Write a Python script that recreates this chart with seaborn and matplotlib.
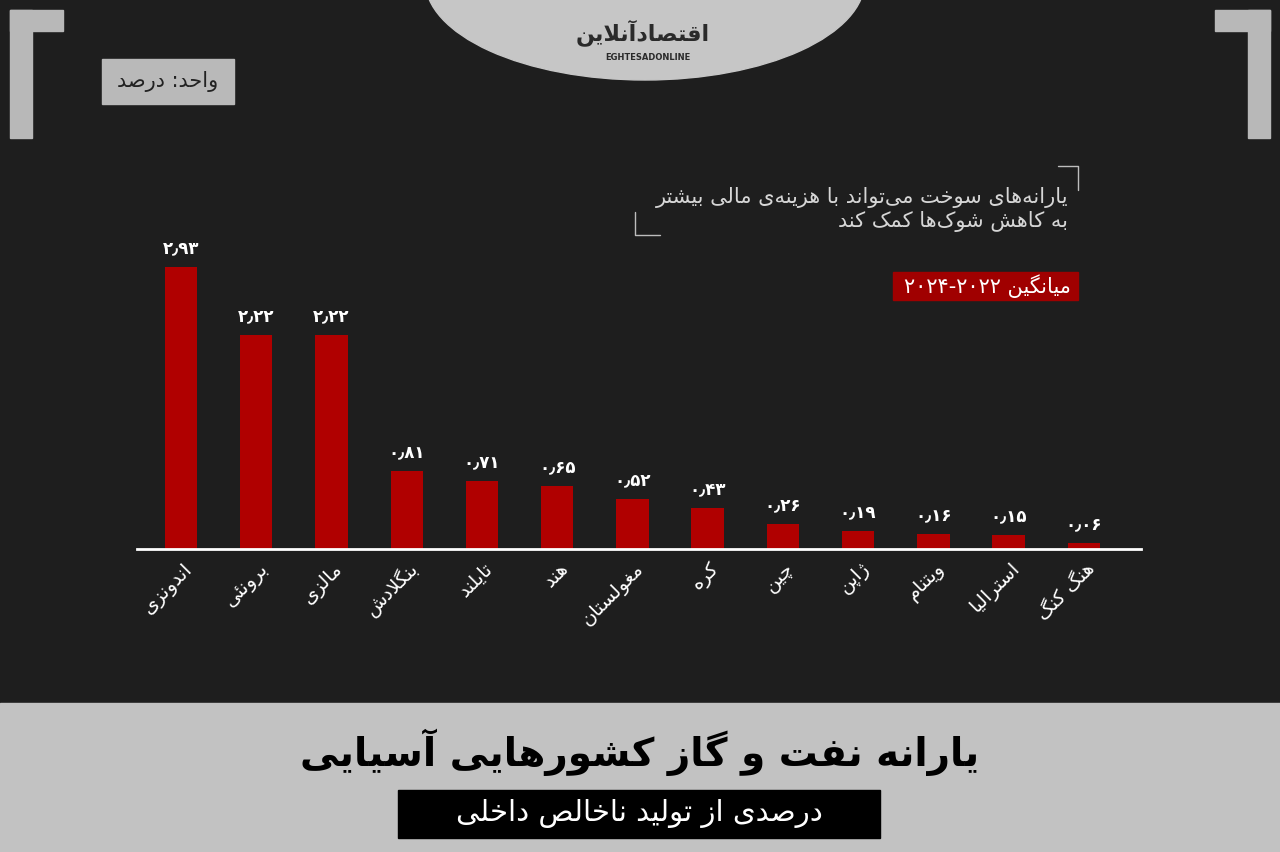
import re
import matplotlib
matplotlib.use("Agg")
import matplotlib.pyplot as plt
from matplotlib.patches import Rectangle, Ellipse
from matplotlib.transforms import ScaledTranslation
import seaborn as sns
import pandas as pd

# data
countries = ["اندونزی", "برونئی", "مالزی", "بنگلادش", "تایلند", "هند", "مغولستان",
             "کره", "چین", "ژاپن", "ویتنام", "استرالیا", "هنگ کنگ"]
values = [2.93, 2.22, 2.22, 0.81, 0.71, 0.65, 0.52, 0.43, 0.26, 0.19, 0.16, 0.15, 0.06]

title = "یارانه نفت و گاز کشورهایی آسیایی"
subtitle = "درصدی از تولید ناخالص داخلی"
unit = "واحد: درصد"
note1 = "یارانه‌های سوخت می‌تواند با هزینه‌ی مالی بیشتر"
note2 = "به کاهش شوک‌ها کمک کند"
period = "میانگین ۲۰۲۲-۲۰۲۴"
logo = "اقتصادآنلاین"

# --- tiny persian shaper (matplotlib has no text shaping) ---
FORMS = {
    'ا': (0xFE8D, 0xFE8E), 'آ': (0xFE81, 0xFE82), 'د': (0xFEA9, 0xFEAA),
    'ذ': (0xFEAB, 0xFEAC), 'ر': (0xFEAD, 0xFEAE), 'ز': (0xFEAF, 0xFEB0),
    'ژ': (0xFB8A, 0xFB8B), 'و': (0xFEED, 0xFEEE), 'ة': (0xFE93, 0xFE94),
    'ب': (0xFE8F, 0xFE90, 0xFE91, 0xFE92), 'پ': (0xFB56, 0xFB57, 0xFB58, 0xFB59),
    'ت': (0xFE95, 0xFE96, 0xFE97, 0xFE98), 'ث': (0xFE99, 0xFE9A, 0xFE9B, 0xFE9C),
    'ج': (0xFE9D, 0xFE9E, 0xFE9F, 0xFEA0), 'چ': (0xFB7A, 0xFB7B, 0xFB7C, 0xFB7D),
    'ح': (0xFEA1, 0xFEA2, 0xFEA3, 0xFEA4), 'خ': (0xFEA5, 0xFEA6, 0xFEA7, 0xFEA8),
    'س': (0xFEB1, 0xFEB2, 0xFEB3, 0xFEB4), 'ش': (0xFEB5, 0xFEB6, 0xFEB7, 0xFEB8),
    'ص': (0xFEB9, 0xFEBA, 0xFEBB, 0xFEBC), 'ض': (0xFEBD, 0xFEBE, 0xFEBF, 0xFEC0),
    'ط': (0xFEC1, 0xFEC2, 0xFEC3, 0xFEC4), 'ظ': (0xFEC5, 0xFEC6, 0xFEC7, 0xFEC8),
    'ع': (0xFEC9, 0xFECA, 0xFECB, 0xFECC), 'غ': (0xFECD, 0xFECE, 0xFECF, 0xFED0),
    'ف': (0xFED1, 0xFED2, 0xFED3, 0xFED4), 'ق': (0xFED5, 0xFED6, 0xFED7, 0xFED8),
    'ک': (0xFB8E, 0xFB8F, 0xFB90, 0xFB91), 'گ': (0xFB92, 0xFB93, 0xFB94, 0xFB95),
    'ل': (0xFEDD, 0xFEDE, 0xFEDF, 0xFEE0), 'م': (0xFEE1, 0xFEE2, 0xFEE3, 0xFEE4),
    'ن': (0xFEE5, 0xFEE6, 0xFEE7, 0xFEE8), 'ه': (0xFEE9, 0xFEEA, 0xFEEB, 0xFEEC),
    'ی': (0xFBFC, 0xFBFD, 0xFBFE, 0xFBFF), 'ئ': (0xFE89, 0xFE8A, 0xFE8B, 0xFE8C),
}
LAM_ALEF = {'ا': (0xFEFB, 0xFEFC), 'آ': (0xFEF5, 0xFEF6)}


def shape(s):
    out = []
    i = 0
    while i < len(s):
        c = s[i]
        if c not in FORMS:
            if c != '\u200c':
                out.append(c)
            i += 1
            continue
        prev = s[i - 1] if i > 0 else None
        cp = prev in FORMS and len(FORMS[prev]) == 4
        if c == 'ل' and i + 1 < len(s) and s[i + 1] in LAM_ALEF:
            iso, fin = LAM_ALEF[s[i + 1]]
            out.append(chr(fin if cp else iso))
            i += 2
            continue
        nxt = s[i + 1] if i + 1 < len(s) else None
        f = FORMS[c]
        cn = len(f) == 4 and nxt in FORMS
        if cp and cn:
            g = f[3]
        elif cp:
            g = f[1]
        elif cn:
            g = f[2]
        else:
            g = f[0]
        out.append(chr(g))
        i += 1
    return ''.join(out)


def fa(s):
    rev = shape(s)[::-1]
    return re.sub(r'[0-9۰-۹٫]+', lambda m: m.group(0)[::-1], rev)


def fa_num(v):
    digits = str.maketrans("0123456789.", "۰۱۲۳۴۵۶۷۸۹٫")
    return ("%.2f" % v).rstrip('0').translate(digits)


df = pd.DataFrame({"country": countries, "value": values})

sns.set_style("dark")
plt.rcParams['font.family'] = ['DejaVu Sans']

DARK = "#1e1e1e"
LIGHT = "#c2c2c2"
RED = "#b00000"

fig = plt.figure(figsize=(12.8, 8.52), dpi=100, facecolor=DARK)

# decorative background layer in pixel coords
bg = fig.add_axes([0, 0, 1, 1], zorder=0)
bg.set_xlim(0, 1280)
bg.set_ylim(852, 0)
bg.axis('off')
bg.add_patch(Rectangle((0, 0), 1280, 703, color=DARK))
bg.add_patch(Rectangle((0, 703), 1280, 149, color=LIGHT))
bg.add_patch(Ellipse((645, -20), 440, 200, color="#c6c6c6"))
bg.text(643, 33, fa(logo), ha='center', va='center', fontsize=16,
        fontweight='bold', color="#2a2a2a")
bg.text(648, 57, "EGHTESADONLINE", ha='center', va='center', fontsize=6,
        fontweight='bold', color="#2a2a2a")
# corner brackets
for r in [(10, 10, 22, 128), (10, 10, 53, 21), (1248, 10, 22, 128), (1215, 10, 55, 21)]:
    bg.add_patch(Rectangle((r[0], r[1]), r[2], r[3], color="#b8b8b8"))
# unit box
bg.add_patch(Rectangle((102, 59), 132, 45, color="#b9b9b9"))
bg.text(168, 81, fa(unit), ha='center', va='center', fontsize=15, color="#222222")
# note with thin brackets
bg.plot([1058, 1078, 1078], [166, 166, 190], color="#bdbdbd", lw=1)
bg.plot([635, 635, 660], [212, 235, 235], color="#bdbdbd", lw=1)
bg.text(1068, 197, fa(note1), ha='right', va='center', fontsize=15, color="#d6d6d6")
bg.text(1068, 222, fa(note2), ha='right', va='center', fontsize=15, color="#d6d6d6")
bg.add_patch(Rectangle((893, 272), 185, 28, color="#a00000"))
bg.text(1071, 286, fa(period), ha='right', va='center', fontsize=15, color="white")
# title block
bg.text(640, 752, fa(title), ha='center', va='center', fontsize=28,
        fontweight='bold', color="black")
bg.add_patch(Rectangle((398, 790), 482, 48, color="black"))
bg.text(639, 813, fa(subtitle), ha='center', va='center', fontsize=21, color="white")

# chart
ax = fig.add_axes([137 / 1280, 1 - 549 / 852, (1141 - 137) / 1280, 349 / 852], zorder=1)
ax.set_facecolor("none")
sns.barplot(data=df, x="country", y="value", color=RED, saturation=1,
            width=0.43, linewidth=0, ax=ax)
ax.set_xlim(-0.585, 12.76)
ax.set_ylim(0, 3.62)
for i, v in enumerate(values):
    ax.text(i, v + 0.1, fa_num(v), ha='center', va='bottom', fontsize=12,
            fontweight='bold', color="white")
ax.set_xticks(range(len(countries)))
ax.set_xticklabels([fa(c) for c in countries], rotation=45, ha='right',
                   va='center', rotation_mode='anchor', color="white", fontsize=14)
ax.tick_params(axis='x', length=0, pad=12)
shift = ScaledTranslation(6 / 72, 0, fig.dpi_scale_trans)
for lab in ax.get_xticklabels():
    lab.set_transform(lab.get_transform() + shift)
ax.set_yticks([])
ax.set_xlabel("")
ax.set_ylabel("")
for s in ['top', 'left', 'right']:
    ax.spines[s].set_visible(False)
ax.spines['bottom'].set_color("white")
ax.spines['bottom'].set_linewidth(2)
ax.grid(False)

fig.savefig("out.png", dpi=100, facecolor=DARK)
